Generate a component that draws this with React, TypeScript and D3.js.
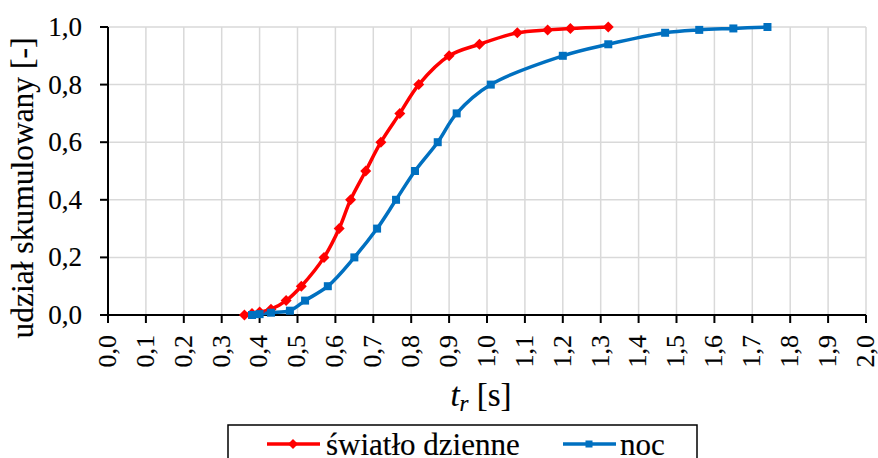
import React from "react";
import * as d3 from "d3";

const xTicks = [0, 0.1, 0.2, 0.3, 0.4, 0.5, 0.6, 0.7, 0.8, 0.9, 1.0, 1.1, 1.2, 1.3, 1.4, 1.5, 1.6, 1.7, 1.8, 1.9, 2.0];
const yTicks = [0, 0.2, 0.4, 0.6, 0.8, 1.0];

const dayT = [0.36, 0.38, 0.40, 0.43, 0.47, 0.51, 0.57, 0.61, 0.64, 0.68, 0.72, 0.77, 0.82, 0.90, 0.98, 1.08, 1.16, 1.22, 1.32];
const dayV = [0, 0.005, 0.01, 0.02, 0.05, 0.1, 0.2, 0.3, 0.4, 0.5, 0.6, 0.7, 0.8, 0.9, 0.94, 0.98, 0.99, 0.995, 1.0];

const nightT = [0.38, 0.40, 0.43, 0.48, 0.52, 0.58, 0.65, 0.71, 0.76, 0.81, 0.87, 0.92, 1.01, 1.20, 1.32, 1.47, 1.56, 1.65, 1.74];
const nightV = [0, 0.003, 0.008, 0.015, 0.05, 0.1, 0.2, 0.3, 0.4, 0.5, 0.6, 0.7, 0.8, 0.9, 0.94, 0.98, 0.99, 0.995, 1.0];

const seriesNames = ["światło dzienne", "noc"];
const RED = "#FF0000";
const BLUE = "#0070C0";
const FONT = '"Liberation Serif", monospace';

const fmt = (v: number) => v.toFixed(1).replace(".", ",");

export default function App() {
  const W = 878, H = 458;
  const x = d3.scaleLinear().domain([0, 2]).range([108, 866]);
  const y = d3.scaleLinear().domain([0, 1]).range([315, 27]);

  const line = d3
    .line<[number, number]>()
    .x((d) => x(d[0]))
    .y((d) => y(d[1]))
    .curve(d3.curveCatmullRom.alpha(0.5));

  const day: [number, number][] = dayT.map((t, i) => [t, dayV[i]]);
  const night: [number, number][] = nightT.map((t, i) => [t, nightV[i]]);

  const diamond = (cx: number, cy: number, r: number) =>
    `M${cx},${cy - r}L${cx + r},${cy}L${cx},${cy + r}L${cx - r},${cy}Z`;

  const txt = { fontFamily: FONT, stroke: "#000", strokeWidth: 0.15 } as React.CSSProperties;

  return (
    <svg width={W} height={H} style={{ position: "absolute", left: 0, top: 0 }}>
      <rect width={W} height={H} fill="#fff" />
      {xTicks.slice(1).map((t) => (
        <line key={"gx" + t} x1={x(t)} x2={x(t)} y1={y(0)} y2={y(1)} stroke="#D9D9D9" strokeWidth={1.5} />
      ))}
      {yTicks.slice(1).map((t) => (
        <line key={"gy" + t} x1={x(0)} x2={x(2)} y1={y(t)} y2={y(t)} stroke="#D9D9D9" strokeWidth={1.5} />
      ))}
      <line x1={x(0)} x2={x(0)} y1={y(0)} y2={y(1)} stroke="#000" strokeWidth={2} />
      <line x1={x(0)} x2={x(2)} y1={y(0)} y2={y(0)} stroke="#000" strokeWidth={2} />
      {yTicks.map((t) => (
        <g key={"yt" + t}>
          <line x1={x(0) - 8} x2={x(0)} y1={y(t)} y2={y(t)} stroke="#000" strokeWidth={2} />
          <text x={82} y={y(t)} dy="0.33em" textAnchor="end" fontSize={27} fill="#000" style={txt}>
            {fmt(t)}
          </text>
        </g>
      ))}
      {xTicks.map((t) => (
        <g key={"xt" + t}>
          <line x1={x(t)} x2={x(t)} y1={y(0)} y2={y(0) + 8} stroke="#000" strokeWidth={2} />
          <text
            transform={`translate(${x(t)},335) rotate(-90)`}
            dy="0.3em"
            textAnchor="end"
            fontSize={26}
            fill="#000"
            style={txt}
          >
            {fmt(t)}
          </text>
        </g>
      ))}
      <path d={line(day) || ""} fill="none" stroke={RED} strokeWidth={3.5} />
      <path d={line(night) || ""} fill="none" stroke={BLUE} strokeWidth={3.5} />
      {day.map((d, i) => (
        <path key={"dm" + i} d={diamond(x(d[0]), y(d[1]), 5.5)} fill={RED} />
      ))}
      {night.map((d, i) => (
        <rect key={"nm" + i} x={x(d[0]) - 4} y={y(d[1]) - 4} width={8} height={8} fill={BLUE} />
      ))}
      <text transform="translate(33,188) rotate(-90)" textAnchor="middle" fontSize={31.5} fill="#000" style={txt}>
        udział skumulowany [-]
      </text>
      <text x={481} y={406} textAnchor="middle" fontSize={33} fill="#000" style={txt}>
        <tspan fontStyle="italic">t</tspan>
        <tspan fontStyle="italic" fontSize={23} dy={5}>r</tspan>
        <tspan dy={-5}> [s]</tspan>
      </text>
      <rect x={228} y={425} width={469} height={50} fill="#fff" stroke="#000" strokeWidth={1.5} />
      <line x1={267} x2={320} y1={444} y2={444} stroke={RED} strokeWidth={3.5} />
      <path d={diamond(293, 444, 5)} fill={RED} />
      <text x={326} y={455} fontSize={31} fill="#000" style={txt}>{seriesNames[0]}</text>
      <line x1={563} x2={616} y1={444} y2={444} stroke={BLUE} strokeWidth={3.5} />
      <rect x={589 - 3.5} y={444 - 3.5} width={7} height={7} fill={BLUE} />
      <text x={620} y={455} fontSize={31} fill="#000" style={txt}>{seriesNames[1]}</text>
    </svg>
  );
}
